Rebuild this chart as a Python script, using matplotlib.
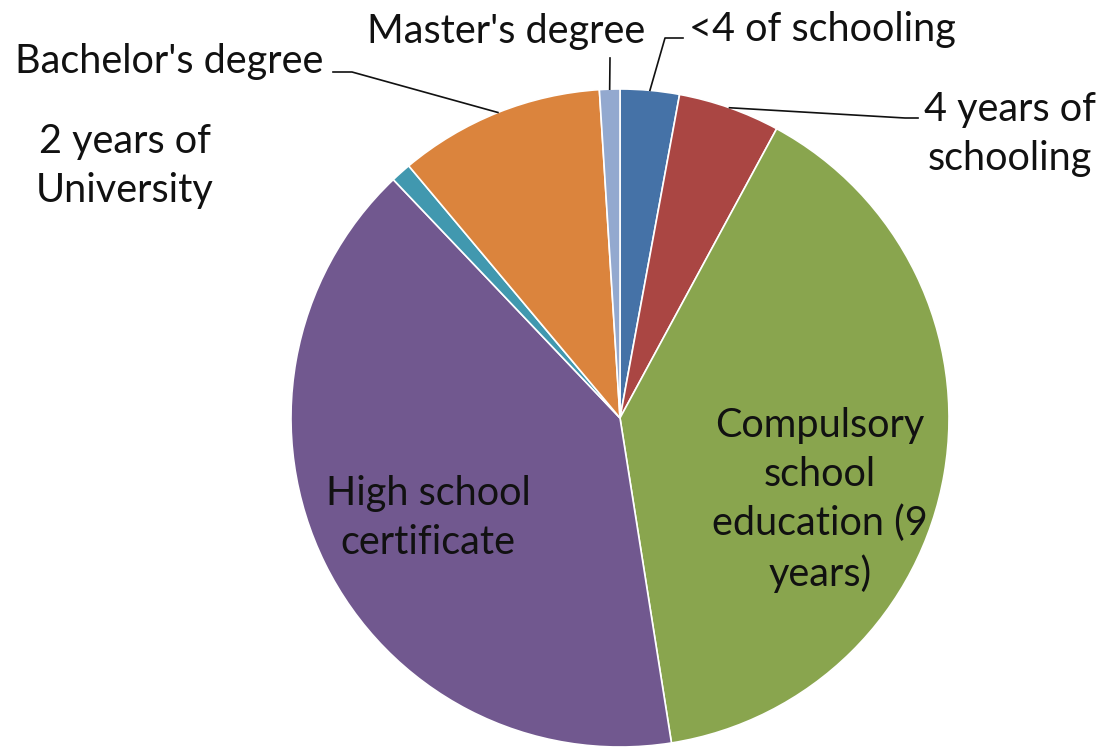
import numpy as np
import matplotlib
matplotlib.use("Agg")
import matplotlib.pyplot as plt

plt.rcParams['font.family'] = ['Lato', 'DejaVu Sans']

# share of people by education level (%)
categories = ["<4 of schooling", "4 years of\nschooling",
              "Compulsory\nschool\neducation (9\nyears)",
              "High school\ncertificate", "2 years of\nUniversity",
              "Bachelor's degree", "Master's degree"]
values = [2.9, 5.0, 39.6, 40.4, 1.0, 10.1, 1.0]
colors = ["#4572A7", "#AA4643", "#89A54E", "#71588F", "#4198AF",
          "#DB843D", "#93A9CF"]

W, H = 1101, 750
fig = plt.figure(figsize=(W / 100, H / 100), dpi=100)
ax = fig.add_axes([0, 0, 1, 1])

cx, cy, r = 620, H - 418, 329
wedges, _ = ax.pie(values, colors=colors, startangle=90, counterclock=False,
                   center=(cx, cy), radius=r,
                   wedgeprops=dict(edgecolor='white', linewidth=1.2))
# pie() resets the limits, so set them afterwards
ax.set_xlim(0, W)
ax.set_ylim(0, H)
ax.set_aspect('equal')
ax.axis('off')

# label placement (pixel coords from top-left)
label_pos = [(822, 30), (1010, 134), (820, 500),
             (428, 518), (125, 166), (169, 61), (506, 31)]
# leader line knee points (None = no leader line)
knees = [[(665, 38), (683, 38)],
         [(905, 118), (918, 118)],
         None, None, None,
         [(352, 72), (333, 72)],
         [(610, 58)]]

for w, lab, (x, y), knee in zip(wedges, categories, label_pos, knees):
    ax.text(x, H - y, lab, ha='center', va='center', fontsize=28.5,
            color='#111111', linespacing=1.38)
    if knee is not None:
        mid = np.deg2rad((w.theta1 + w.theta2) / 2)
        px = cx + r * np.cos(mid)
        py = cy + r * np.sin(mid)
        xs = [px] + [k[0] for k in knee]
        ys = [py] + [H - k[1] for k in knee]
        ax.plot(xs, ys, color='#111111', lw=1.2)

fig.savefig("out.png", dpi=100)
